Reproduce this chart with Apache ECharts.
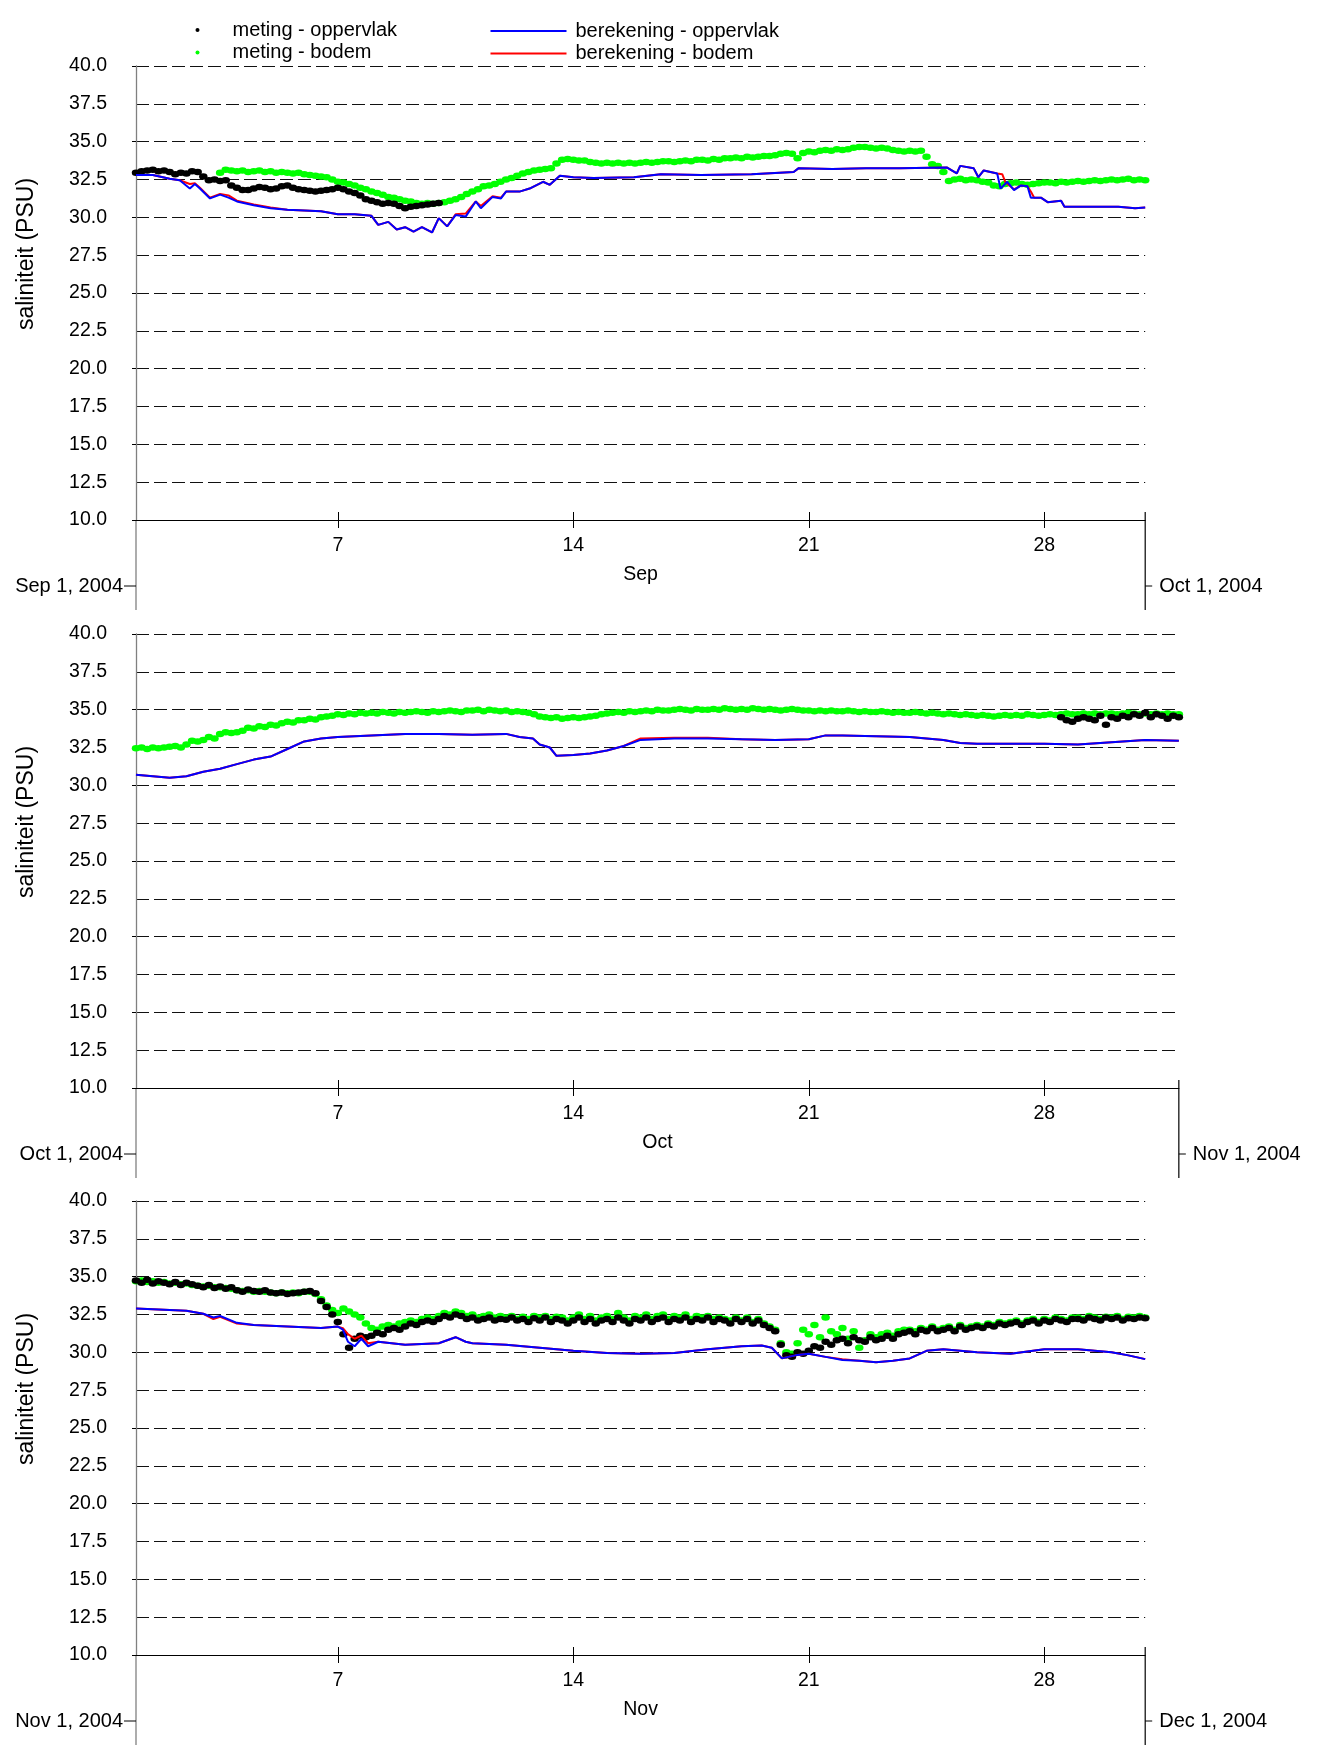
<!DOCTYPE html>
<html><head><meta charset="utf-8">
<script src="https://cdn.jsdelivr.net/npm/echarts@6/dist/echarts.min.js"></script>
<style>html,body{margin:0;padding:0;background:#fff}#c{width:1318px;height:1753px}</style>
</head><body><div id="c"></div>
<script>
// ---------- labels / ticks ----------
const monthNames = ['Sep', 'Oct', 'Nov'];
const startLabels = ['Sep 1, 2004', 'Oct 1, 2004', 'Nov 1, 2004'];
const endLabels = ['Oct 1, 2004', 'Nov 1, 2004', 'Dec 1, 2004'];
const dayTicks = [7, 14, 21, 28];
const monthEndDay = [31, 32, 31];   // x-axis max (day-of-month, 1 = first day 00:00)
const yMin = 10, yMax = 40, yStep = 2.5, yMajorStep = 5;
const seriesNames = ['meting - oppervlak', 'meting - bodem', 'berekening - oppervlak', 'berekening - bodem'];

// ---------- measurements (6 per day, one row per day) ----------
const sepSurfStart = 1.0;
const sepSurf = [
 32.95,33.05,33.1,33.15,33.05,33.1,
 33.0,32.85,32.95,32.9,33.05,33.0,
 32.7,32.45,32.5,32.4,32.45,32.1,
 31.95,31.8,31.8,31.9,32.0,31.95,
 31.85,31.9,32.05,32.1,31.95,31.85,
 31.8,31.75,31.7,31.75,31.8,31.85,
 31.95,31.85,31.7,31.6,31.45,31.2,
 31.1,31.0,30.9,30.95,30.9,30.75,
 30.6,30.7,30.75,30.8,30.85,30.9,
 30.95];
const sepBotStart = 3.5;
const sepBot = [
 32.95,33.15,33.1,33.05,33.1,33.0,
 33.05,33.1,33.0,33.05,32.95,33.0,
 32.95,32.9,32.95,32.85,32.8,32.75,
 32.7,32.65,32.5,32.35,32.3,32.2,
 32.1,31.95,31.85,31.7,31.6,31.5,
 31.35,31.3,31.2,31.1,31.05,30.95,
 30.9,30.95,30.9,30.95,31.0,31.1,
 31.2,31.35,31.55,31.7,31.85,32.05,
 32.1,32.2,32.35,32.5,32.6,32.75,
 32.9,33.0,33.1,33.15,33.2,33.25,
 33.55,33.8,33.85,33.8,33.75,33.75,
 33.65,33.6,33.55,33.6,33.55,33.6,
 33.55,33.6,33.55,33.6,33.65,33.6,
 33.65,33.7,33.7,33.65,33.7,33.75,
 33.7,33.8,33.8,33.75,33.85,33.8,
 33.9,33.9,33.95,33.9,34.0,33.95,
 34.0,34.05,34.05,34.1,34.2,34.25,
 34.2,33.9,34.25,34.35,34.3,34.4,
 34.45,34.4,34.5,34.45,34.5,34.6,
 34.65,34.65,34.6,34.55,34.6,34.55,
 34.45,34.4,34.35,34.4,34.35,34.4,
 34.0,33.5,33.4,33.0,32.4,32.5,
 32.55,32.45,32.5,32.45,32.35,32.3,
 32.1,32.05,32.2,32.25,32.3,32.2,
 32.15,32.2,32.25,32.3,32.3,32.25,
 32.35,32.3,32.35,32.4,32.35,32.4,
 32.45,32.4,32.45,32.5,32.45,32.5,
 32.55,32.45,32.5,32.45];

const octBotStart = 1.0;
const octBot = [
 32.45,32.5,32.4,32.5,32.45,32.5,
 32.55,32.6,32.5,32.7,32.95,32.9,
 33.0,33.2,33.1,33.4,33.5,33.45,
 33.5,33.6,33.8,33.75,33.9,33.85,
 34.0,33.95,34.1,34.2,34.15,34.3,
 34.3,34.4,34.35,34.5,34.55,34.6,
 34.7,34.65,34.75,34.7,34.8,34.75,
 34.8,34.75,34.85,34.8,34.75,34.85,
 34.8,34.85,34.9,34.85,34.8,34.9,
 34.85,34.9,34.95,34.9,34.85,34.95,
 34.95,35.0,34.9,35.0,34.95,34.9,
 34.95,34.85,34.9,34.85,34.8,34.7,
 34.55,34.5,34.45,34.5,34.4,34.45,
 34.5,34.45,34.5,34.55,34.6,34.7,
 34.75,34.8,34.85,34.8,34.9,34.85,
 34.9,34.95,34.9,35.0,34.95,34.95,
 35.0,35.05,35.0,34.95,35.05,35.0,
 35.0,35.05,35.0,35.1,35.05,35.0,
 35.05,35.0,35.1,35.05,35.0,35.05,
 35.0,34.95,35.0,35.05,35.0,34.95,
 34.95,34.9,34.95,34.9,34.95,34.9,
 34.9,34.95,34.9,34.85,34.9,34.85,
 34.85,34.9,34.85,34.8,34.85,34.8,
 34.8,34.85,34.8,34.75,34.8,34.75,
 34.7,34.75,34.7,34.65,34.7,34.65,
 34.6,34.65,34.6,34.55,34.6,34.65,
 34.6,34.65,34.6,34.7,34.65,34.6,
 34.65,34.7,34.65,34.7,34.75,34.7,
 34.7,34.75,34.7,34.75,34.7,34.75,
 34.75,34.7,34.75,34.8,34.75,34.7,
 34.75,34.7,34.75,34.7,34.75,34.7,
 34.7];
const octSurfStart = 28.5;
const octSurf = [
 34.5,34.3,34.2,34.4,34.5,34.4,
 34.3,34.6,34.0,34.5,34.4,34.6,
 34.5,34.7,34.6,34.8,34.5,34.7,
 34.6,34.4,34.6,34.5];

const novSurfStart = 1.0;
const novSurf = [
 34.75,34.6,34.8,34.55,34.7,34.6,
 34.5,34.65,34.45,34.6,34.5,34.4,
 34.3,34.45,34.25,34.35,34.2,34.3,
 34.1,34.0,34.15,34.05,34.0,34.1,
 33.95,33.9,33.95,33.85,33.9,33.95,
 34.0,34.05,33.9,33.4,33.0,32.5,
 32.0,31.2,30.3,30.9,31.1,31.0,
 31.1,31.3,31.2,31.5,31.6,31.5,
 31.7,31.9,31.8,32.0,32.1,32.0,
 32.2,32.4,32.3,32.5,32.4,32.2,
 32.3,32.1,32.2,32.3,32.1,32.2,
 32.15,32.3,32.1,32.2,32.0,32.25,
 32.1,32.3,32.0,32.2,32.1,31.9,
 32.1,32.3,32.0,32.2,31.9,32.1,
 32.2,32.0,32.3,32.1,31.9,32.2,
 32.1,32.3,32.0,32.2,32.3,32.0,
 32.2,32.1,32.3,32.0,32.2,32.1,
 32.3,32.0,32.2,32.1,31.9,32.2,
 32.0,32.2,31.9,32.1,31.8,31.6,
 31.4,30.5,29.8,29.7,30.0,29.9,
 30.1,30.4,30.3,30.7,30.5,30.8,
 30.9,30.6,31.0,30.8,30.7,31.0,
 30.8,30.9,31.1,30.9,31.2,31.3,
 31.4,31.2,31.5,31.4,31.6,31.4,
 31.5,31.6,31.4,31.7,31.5,31.6,
 31.7,31.6,31.8,31.7,31.9,31.8,
 31.9,32.0,31.8,32.0,32.1,31.9,
 32.1,32.0,32.2,32.1,32.0,32.2,
 32.2,32.1,32.3,32.2,32.1,32.3,
 32.2,32.3,32.1,32.25,32.2,32.3,
 32.25];
const novBotStart = 1.0;
const novBot = [
 34.7,34.75,34.65,34.7,34.6,34.65,
 34.55,34.6,34.5,34.55,34.45,34.4,
 34.35,34.4,34.3,34.3,34.25,34.2,
 34.1,34.05,34.1,34.0,34.05,34.0,
 33.95,33.9,33.95,33.9,33.95,33.9,
 34.0,34.0,33.85,33.5,33.1,32.8,
 32.6,32.9,32.7,32.5,32.3,31.9,
 31.6,31.5,31.7,31.8,31.7,31.9,
 32.0,32.1,32.0,32.2,32.3,32.2,
 32.4,32.6,32.5,32.7,32.6,32.4,
 32.5,32.3,32.4,32.5,32.3,32.4,
 32.3,32.4,32.2,32.35,32.2,32.4,
 32.3,32.4,32.2,32.35,32.3,32.1,
 32.3,32.5,32.2,32.4,32.1,32.3,
 32.4,32.2,32.6,32.3,32.1,32.4,
 32.3,32.5,32.2,32.4,32.5,32.2,
 32.4,32.3,32.5,32.2,32.4,32.3,
 32.4,32.2,32.3,32.2,32.1,32.3,
 32.1,32.3,32.0,32.2,31.9,31.7,
 31.5,30.6,30.0,29.9,30.6,31.5,
 31.2,31.8,31.0,32.3,31.4,31.2,
 31.6,30.9,31.4,30.3,30.8,31.2,
 31.0,31.2,31.3,31.1,31.4,31.5,
 31.5,31.4,31.6,31.5,31.7,31.5,
 31.6,31.7,31.5,31.8,31.6,31.7,
 31.8,31.7,31.9,31.8,32.0,31.9,
 32.0,32.1,31.9,32.1,32.2,32.0,
 32.2,32.1,32.3,32.2,32.1,32.3,
 32.3,32.2,32.4,32.3,32.2,32.35,
 32.3,32.4,32.2,32.35,32.3,32.4,
 32.3];

// ---------- model results: [day-of-month, salinity] ----------
const sepCalcSurf = [[1,32.8],[1.5,32.8],[2,32.55],[2.3,32.45],[2.6,31.9],[2.75,32.2],[2.9,31.9],[3.2,31.25],[3.5,31.5],[3.75,31.3],[4,31.05],[4.5,30.8],[5,30.6],[5.5,30.5],[6,30.45],[6.5,30.4],[7,30.2],[7.5,30.2],[8,30.1],[8.2,29.5],[8.5,29.7],[8.75,29.2],[9,29.35],[9.25,29.05],[9.5,29.35],[9.8,29.0],[10,29.95],[10.25,29.4],[10.5,30.15],[10.8,30.05],[11.1,31.05],[11.25,30.6],[11.6,31.35],[11.85,31.25],[12,31.7],[12.4,31.7],[12.7,31.9],[13.1,32.35],[13.3,32.15],[13.6,32.75],[14,32.65],[14.6,32.6],[15.8,32.65],[16.6,32.85],[17.8,32.8],[19.3,32.85],[20.55,33.0],[20.7,33.25],[21.7,33.2],[22.7,33.25],[23.7,33.25],[25.1,33.3],[25.4,32.9],[25.5,33.4],[25.9,33.25],[26.04,32.65],[26.2,33.1],[26.6,32.9],[26.7,31.9],[26.9,32.35],[27.1,31.8],[27.3,32.1],[27.5,32.05],[27.6,31.3],[27.9,31.3],[28.1,31.0],[28.5,31.1],[28.6,30.7],[29.2,30.7],[30.2,30.7],[30.7,30.6],[31,30.65]];
const sepCalcBot = [[1,32.8],[1.5,32.8],[2,32.55],[2.3,32.45],[2.6,32.2],[2.75,32.25],[2.9,31.95],[3.2,31.3],[3.5,31.55],[3.75,31.45],[4,31.1],[4.5,30.85],[5,30.65],[5.5,30.5],[6,30.45],[6.5,30.4],[7,30.2],[7.5,30.2],[8,30.1],[8.2,29.5],[8.5,29.7],[8.75,29.2],[9,29.35],[9.25,29.05],[9.5,29.35],[9.8,29.0],[10,29.95],[10.25,29.4],[10.5,30.2],[10.8,30.25],[11.1,31.05],[11.25,30.75],[11.6,31.4],[11.85,31.3],[12,31.7],[12.4,31.7],[12.7,31.9],[13.1,32.35],[13.3,32.15],[13.6,32.75],[14,32.65],[14.6,32.6],[15.8,32.65],[16.6,32.85],[17.8,32.8],[19.3,32.85],[20.55,33.0],[20.7,33.25],[21.7,33.2],[22.7,33.25],[23.7,33.25],[25.1,33.3],[25.4,32.9],[25.5,33.4],[25.9,33.25],[26.04,32.65],[26.2,33.1],[26.6,32.9],[26.75,32.85],[26.85,32.3],[27.1,31.85],[27.3,32.1],[27.5,32.05],[27.6,31.7],[27.7,31.3],[27.9,31.3],[28.1,31.0],[28.5,31.1],[28.6,30.7],[29.2,30.7],[30.2,30.7],[30.7,30.6],[31,30.65]];

const octCalcSurf = [[1,30.7],[1.5,30.6],[2,30.5],[2.5,30.6],[3,30.9],[3.5,31.1],[4,31.4],[4.5,31.7],[5,31.9],[5.5,32.4],[6,32.9],[6.5,33.1],[7,33.2],[8,33.3],[9,33.4],[10,33.4],[11,33.35],[12,33.4],[12.4,33.2],[12.8,33.1],[13,32.7],[13.3,32.5],[13.5,31.95],[14,32.0],[14.5,32.1],[15,32.3],[15.5,32.6],[16,33.0],[17,33.1],[18,33.1],[19,33.05],[20,33.0],[21,33.05],[21.5,33.3],[22,33.3],[23,33.25],[24,33.2],[25,33.0],[25.5,32.8],[26,32.75],[27,32.75],[28,32.75],[29,32.7],[30,32.85],[31,33.0],[32,32.95]];
const octCalcBot = [[1,30.7],[1.5,30.6],[2,30.5],[2.5,30.6],[3,30.9],[3.5,31.1],[4,31.4],[4.5,31.7],[5,31.9],[5.5,32.4],[6,32.9],[6.5,33.1],[7,33.2],[8,33.3],[9,33.4],[10,33.4],[11,33.35],[12,33.4],[12.4,33.2],[12.8,33.1],[13,32.7],[13.3,32.5],[13.5,31.95],[14,32.0],[14.5,32.1],[15,32.3],[15.5,32.6],[16,33.1],[17,33.15],[18,33.15],[19,33.05],[20,33.0],[21,33.05],[21.5,33.3],[22,33.3],[23,33.25],[24,33.2],[25,33.0],[25.5,32.8],[26,32.75],[27,32.75],[28,32.75],[29,32.7],[30,32.85],[31,33.0],[32,32.95]];

const novCalcSurf = [[1,32.9],[1.5,32.85],[2,32.8],[2.5,32.75],[3,32.55],[3.3,32.3],[3.5,32.4],[4,31.95],[4.5,31.8],[5,31.75],[6,31.65],[6.5,31.6],[7,31.7],[7.15,31.5],[7.3,30.7],[7.5,30.4],[7.7,30.9],[7.9,30.4],[8.2,30.7],[9,30.5],[9.5,30.55],[10,30.6],[10.5,31.0],[10.8,30.7],[11,30.6],[12,30.5],[13,30.3],[14,30.1],[15,29.95],[16,29.9],[17,29.95],[18,30.2],[19,30.4],[19.6,30.45],[19.9,30.3],[20.2,29.6],[20.6,29.8],[21,29.9],[21.5,29.7],[22,29.5],[22.5,29.45],[23,29.35],[23.5,29.45],[24,29.6],[24.5,30.1],[25,30.2],[25.5,30.1],[26,30.0],[27,29.9],[28,30.2],[29,30.2],[30,30.0],[30.5,29.8],[31,29.55]];
const novCalcBot = [[1,32.9],[1.5,32.85],[2,32.8],[2.5,32.75],[3,32.55],[3.3,32.2],[3.5,32.35],[4,31.9],[4.5,31.8],[5,31.75],[6,31.65],[6.5,31.6],[7,31.7],[7.15,31.6],[7.3,31.2],[7.5,30.9],[7.7,31.1],[7.9,30.6],[8.2,30.7],[9,30.5],[9.5,30.55],[10,30.6],[10.5,31.0],[10.8,30.7],[11,30.6],[12,30.5],[13,30.3],[14,30.1],[15,29.95],[16,29.9],[17,29.95],[18,30.2],[19,30.4],[19.6,30.45],[19.9,30.3],[20.2,29.6],[20.6,29.8],[21,29.9],[21.5,29.7],[22,29.55],[22.5,29.45],[23,29.35],[23.5,29.45],[24,29.6],[24.5,30.1],[25,30.2],[25.5,30.1],[26,30.0],[27,29.9],[28,30.2],[29,30.2],[30,30.0],[30.5,29.8],[31,29.55]];

// ---------- assemble ----------
const STEP = 1 / 6;
function toPoints(start, vals) { return vals.map((v, i) => [start + i * STEP, v]); }

const panels = [
  { surf: toPoints(sepSurfStart, sepSurf), bot: toPoints(sepBotStart, sepBot), cs: sepCalcSurf, cb: sepCalcBot },
  { surf: toPoints(octSurfStart, octSurf), bot: toPoints(octBotStart, octBot), cs: octCalcSurf, cb: octCalcBot },
  { surf: toPoints(novSurfStart, novSurf), bot: toPoints(novBotStart, novBot), cs: novCalcSurf, cb: novCalcBot }
];

const FONT = "'Liberation Sans', Arial, Helvetica, sans-serif";
const FS = 19.5;
const GRID_LEFT = 136, PX_DAY = 33.64, GRID_H = 454;
const gridTops = [66, 634, 1201];
const DOT = [8.5, 6.5];

const grids = [], xAxes = [], yAxes = [], series = [], graphics = [];
panels.forEach((p, k) => {
  const width = (monthEndDay[k] - 1) * PX_DAY;
  grids.push({ left: GRID_LEFT, top: gridTops[k], width: width, height: GRID_H, containLabel: false });
  xAxes.push({
    type: 'value', gridIndex: k, min: 1, max: monthEndDay[k], position: 'bottom',
    name: monthNames[k], nameLocation: 'middle', nameGap: 45,
    nameTextStyle: { fontFamily: FONT, fontSize: FS, color: '#000' },
    axisLine: { show: true, lineStyle: { color: '#000', width: 1.2 } },
    axisTick: { show: true, customValues: dayTicks, length: 8, lineStyle: { color: '#000', width: 1 } },
    axisLabel: { show: true, customValues: dayTicks, margin: 16, fontFamily: FONT, fontSize: FS, color: '#000' },
    splitLine: { show: false }
  });
  xAxes.push({
    type: 'value', gridIndex: k, min: 1, max: monthEndDay[k], position: 'bottom', offset: 0,
    axisLine: { show: false },
    axisTick: { show: true, inside: true, customValues: dayTicks, length: 8, lineStyle: { color: '#000', width: 1 } },
    axisLabel: { show: false }, splitLine: { show: false }
  });
  yAxes.push({
    type: 'value', gridIndex: k, min: yMin, max: yMax, interval: yStep,
    name: 'saliniteit (PSU)', nameLocation: 'middle', nameRotate: 90, nameGap: 98,
    nameTextStyle: { fontFamily: FONT, fontSize: 23, color: '#000', padding: [0, 0, 0, 78] },
    axisLine: { show: true, lineStyle: { color: '#808080', width: 1.3 } },
    axisTick: { show: false },
    axisLabel: { margin: 29, fontFamily: FONT, fontSize: FS, color: '#000', formatter: v => v.toFixed(1) },
    splitLine: { show: true, lineStyle: { color: '#111', width: 1, type: [13, 5] } }
  });
  yAxes.push({
    type: 'value', gridIndex: k, min: yMin, max: yMax, interval: yMajorStep, position: 'left', offset: 0,
    axisLine: { show: false },
    axisTick: { show: true, length: 4, lineStyle: { color: '#000' } },
    axisLabel: { show: false }, splitLine: { show: false }
  });
  const xi0 = k * 2, yi0 = k * 2;
  series.push({ name: seriesNames[1], type: 'scatter', xAxisIndex: xi0, yAxisIndex: yi0, data: p.bot,
    symbol: 'circle', symbolSize: DOT, itemStyle: { color: '#00ff00', opacity: 1 }, silent: true });
  series.push({ name: seriesNames[0], type: 'scatter', xAxisIndex: xi0, yAxisIndex: yi0, data: p.surf,
    symbol: 'circle', symbolSize: DOT, itemStyle: { color: '#000000', opacity: 1 }, silent: true });
  series.push({ name: seriesNames[3], type: 'line', xAxisIndex: xi0, yAxisIndex: yi0, data: p.cb,
    symbol: 'none', lineStyle: { color: '#ff0000', width: 2 }, itemStyle: { color: '#ff0000' }, silent: true });
  series.push({ name: seriesNames[2], type: 'line', xAxisIndex: xi0, yAxisIndex: yi0, data: p.cs,
    symbol: 'none', lineStyle: { color: '#0000ff', width: 2 }, itemStyle: { color: '#0000ff' }, silent: true });

  const top = gridTops[k], bottom = top + GRID_H, right = GRID_LEFT + width;
  const dateY = top + 520, lowEnd = top + 544;
  const dateFont = '20px ' + FONT;
  graphics.push(
    { type: 'line', shape: { x1: GRID_LEFT, y1: bottom, x2: GRID_LEFT, y2: lowEnd }, style: { stroke: '#808080', lineWidth: 1.3 }, silent: true },
    { type: 'line', shape: { x1: right, y1: bottom - 8, x2: right, y2: lowEnd }, style: { stroke: '#000', lineWidth: 1.2 }, silent: true },
    { type: 'line', shape: { x1: GRID_LEFT - 12, y1: dateY, x2: GRID_LEFT, y2: dateY }, style: { stroke: '#000', lineWidth: 1 }, silent: true },
    { type: 'text', x: GRID_LEFT - 13, y: dateY, style: { text: startLabels[k], fill: '#000', font: dateFont, textAlign: 'right', textVerticalAlign: 'middle' }, silent: true },
    { type: 'line', shape: { x1: right, y1: dateY, x2: right + 7, y2: dateY }, style: { stroke: '#000', lineWidth: 1 }, silent: true },
    { type: 'text', x: right + 14, y: dateY, style: { text: endLabels[k], fill: '#000', font: dateFont, textAlign: 'left', textVerticalAlign: 'middle' }, silent: true }
  );
});

const chart = echarts.init(document.getElementById('c'), null, { renderer: 'canvas' });
chart.setOption({
  animation: false,
  backgroundColor: '#fff',
  textStyle: { fontFamily: FONT },
  legend: [
    { data: [seriesNames[0], seriesNames[1]], orient: 'vertical', left: 195.5, top: 20, padding: 0,
      itemWidth: 60, itemHeight: 4, itemGap: 2.4,
      icon: 'circle', selectedMode: false, textStyle: { fontFamily: FONT, fontSize: 20, color: '#000' } },
    { data: [seriesNames[2], seriesNames[3]], orient: 'vertical', left: 490.5, top: 21, padding: 0,
      itemWidth: 76, itemHeight: 2, itemGap: 2.4,
      icon: 'rect', selectedMode: false, textStyle: { fontFamily: FONT, fontSize: 20, color: '#000', padding: [0, 0, 0, 4] } }
  ],
  grid: grids, xAxis: xAxes, yAxis: yAxes, series: series,
  graphic: graphics
});
</script></body></html>
